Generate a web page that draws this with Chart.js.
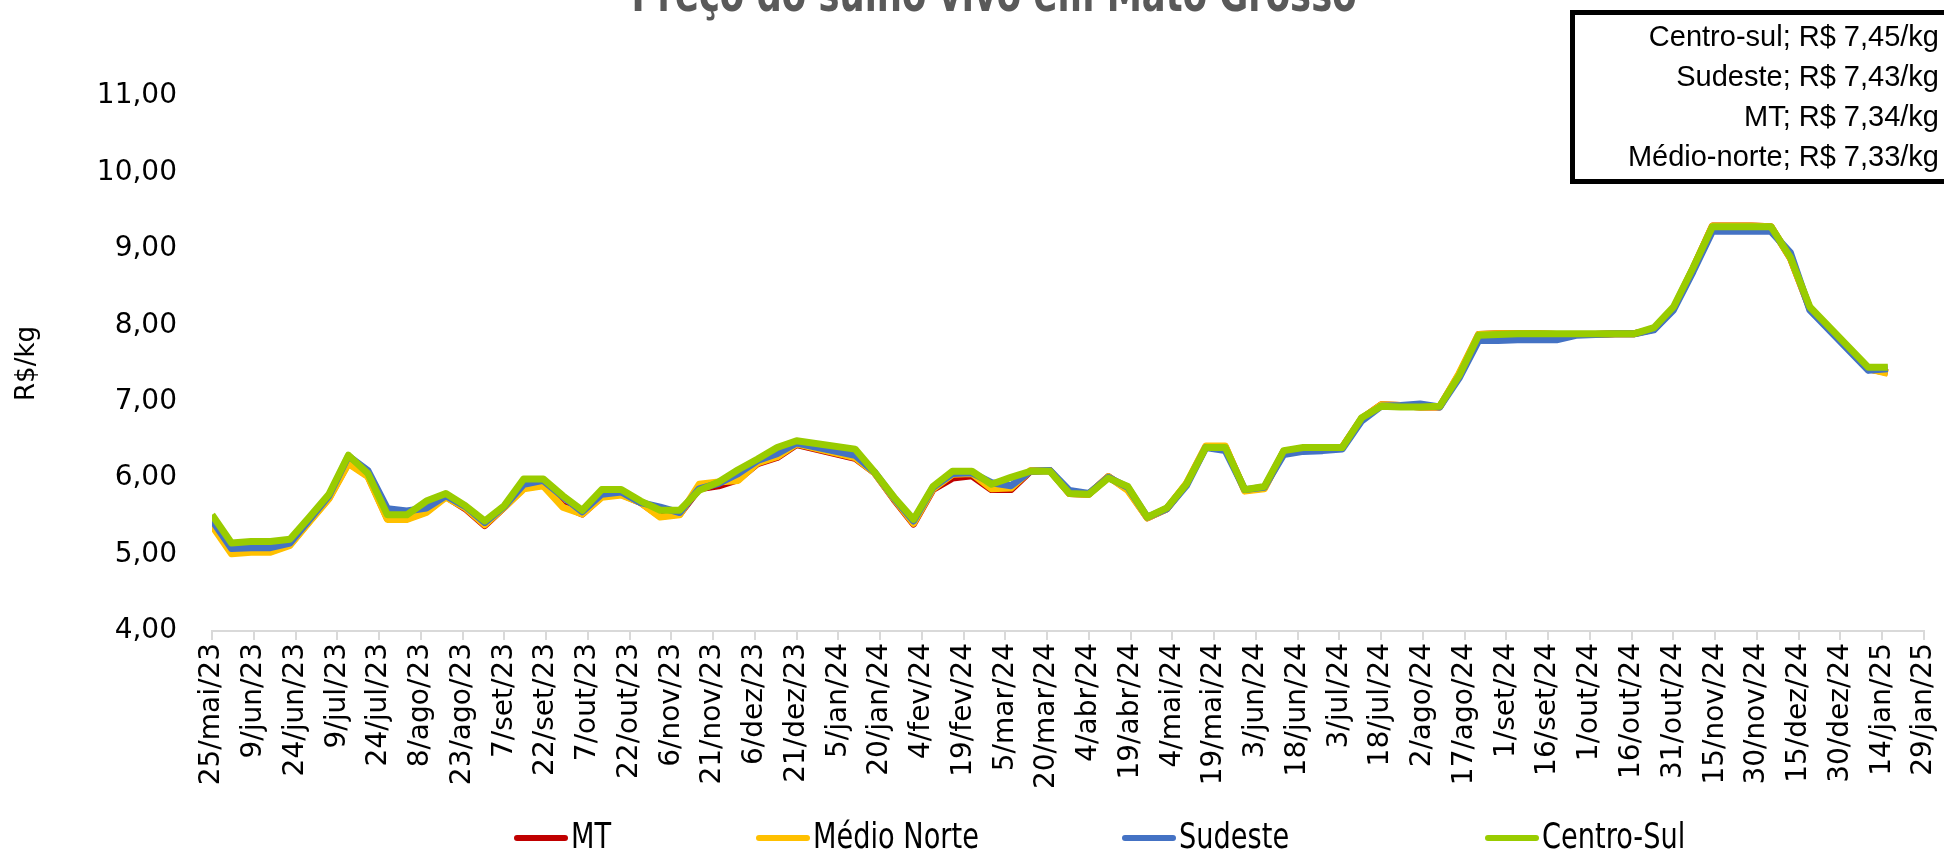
<!DOCTYPE html>
<html lang="pt-BR">
<head>
<meta charset="UTF-8">
<title>Preço do suíno vivo em Mato Grosso</title>
<script src="https://cdn.jsdelivr.net/npm/chart.js@4/dist/chart.umd.min.js"></script>
<style>
  html, body { margin: 0; padding: 0; background: #fff; }
  #wrap { width: 1944px; height: 852px; }
</style>
</head>
<body>
<div id="wrap"><canvas id="chart" width="1944" height="852"></canvas></div>
<script>
// weekly quotes (R$/kg); no quote in the two holiday weeks of each year
const dates = [
  '2023-05-25','2023-06-01','2023-06-08','2023-06-15','2023-06-22','2023-06-29','2023-07-06','2023-07-13',
  '2023-07-20','2023-07-27','2023-08-03','2023-08-10','2023-08-17','2023-08-24','2023-08-31','2023-09-07',
  '2023-09-14','2023-09-21','2023-09-28','2023-10-05','2023-10-12','2023-10-19','2023-10-26','2023-11-02',
  '2023-11-09','2023-11-16','2023-11-23','2023-11-30','2023-12-07','2023-12-14','2023-12-21',
  '2024-01-11','2024-01-18','2024-01-25','2024-02-01','2024-02-08','2024-02-15','2024-02-22','2024-02-29',
  '2024-03-07','2024-03-14','2024-03-21','2024-03-28','2024-04-04','2024-04-11','2024-04-18','2024-04-25',
  '2024-05-02','2024-05-09','2024-05-16','2024-05-23','2024-05-30','2024-06-06','2024-06-13','2024-06-20',
  '2024-06-27','2024-07-04','2024-07-11','2024-07-18','2024-07-25','2024-08-01','2024-08-08','2024-08-15',
  '2024-08-22','2024-08-29','2024-09-05','2024-09-12','2024-09-19','2024-09-26','2024-10-03','2024-10-10',
  '2024-10-17','2024-10-24','2024-10-31','2024-11-07','2024-11-14','2024-11-21','2024-11-28','2024-12-05',
  '2024-12-12','2024-12-19','2025-01-09','2025-01-16'
];

const mt = [
  5.40,5.03,5.04,5.04,5.13,5.44,5.74,6.20, 6.03,5.47,5.47,5.56,5.76,5.60,5.38,5.62,
  5.87,5.91,5.64,5.53,5.76,5.79,5.68,5.50, 5.53,5.86,5.90,5.98,6.19,6.27,6.44,
  6.26,6.07,5.72,5.40,5.85,6.00,6.03,5.85, 5.85,6.09,6.10,5.80,5.79,6.02,5.85,5.48,
  5.60,5.92,6.41,6.41,5.84,5.87,6.35,6.39, 6.39,6.40,6.78,6.96,6.95,6.93,6.93,7.36,
  7.88,7.89,7.89,7.89,7.88,7.88,7.88,7.89, 7.89,7.95,8.22,8.74,9.30,9.30,9.30,9.29,
  8.88,8.22,7.43,7.38
];
const medioNorte = [
  5.38,5.01,5.03,5.03,5.12,5.43,5.73,6.19, 6.02,5.46,5.46,5.55,5.75,5.61,5.39,5.62,
  5.86,5.90,5.62,5.53,5.75,5.78,5.68,5.49, 5.52,5.92,5.95,5.97,6.20,6.28,6.45,
  6.27,6.07,5.73,5.41,5.86,6.05,6.06,5.86, 5.87,6.10,6.10,5.80,5.79,6.02,5.84,5.48,
  5.60,5.93,6.42,6.42,5.83,5.86,6.35,6.39, 6.39,6.40,6.78,6.96,6.95,6.93,6.93,7.37,
  7.88,7.89,7.89,7.89,7.88,7.88,7.88,7.89, 7.89,7.95,8.22,8.74,9.30,9.30,9.30,9.29,
  8.88,8.22,7.43,7.37
];
const sudeste = [
  5.45,5.08,5.09,5.09,5.15,5.46,5.77,6.29, 6.10,5.60,5.57,5.61,5.77,5.63,5.42,5.63,
  5.92,5.97,5.76,5.56,5.79,5.82,5.68,5.62, 5.55,5.86,5.93,6.06,6.23,6.32,6.46,
  6.30,6.08,5.74,5.44,5.88,6.06,6.07,5.94, 5.90,6.09,6.10,5.84,5.80,6.01,5.88,5.49,
  5.60,5.90,6.40,6.36,5.85,5.88,6.31,6.35, 6.36,6.38,6.75,6.94,6.95,6.97,6.93,7.31,
  7.80,7.80,7.81,7.81,7.81,7.87,7.88,7.89, 7.89,7.94,8.20,8.70,9.23,9.23,9.23,9.23,
  8.95,8.20,7.41,7.43
];
const centroSul = [
  5.52,5.15,5.17,5.17,5.20,5.49,5.79,6.30, 6.06,5.52,5.52,5.70,5.80,5.64,5.44,5.64,
  5.99,5.99,5.77,5.58,5.85,5.85,5.70,5.58, 5.58,5.84,5.95,6.11,6.25,6.40,6.49,
  6.38,6.08,5.75,5.46,5.89,6.09,6.09,5.92, 6.01,6.09,6.09,5.80,5.79,6.00,5.89,5.49,
  5.61,5.92,6.40,6.40,5.85,5.89,6.36,6.40, 6.40,6.40,6.79,6.94,6.93,6.93,6.94,7.34,
  7.87,7.88,7.89,7.89,7.89,7.89,7.89,7.89, 7.89,7.97,8.24,8.75,9.29,9.29,9.29,9.29,
  8.89,8.24,7.45,7.45
];

const seriesNames  = ['MT', 'Médio Norte', 'Sudeste', 'Centro-Sul'];
const seriesColors = ['#c00000', '#ffc000', '#4472c4', '#99cc00'];
const seriesValues = [mt, medioNorte, sudeste, centroSul];

// text box in the top right corner
const boxNames  = ['Centro-sul', 'Sudeste', 'MT', 'Médio-norte'];
const boxValues = [7.45, 7.43, 7.34, 7.33];

const tickLabels = [
  '25/mai/23','9/jun/23','24/jun/23','9/jul/23','24/jul/23','8/ago/23','23/ago/23','7/set/23',
  '22/set/23','7/out/23','22/out/23','6/nov/23','21/nov/23','6/dez/23','21/dez/23','5/jan/24',
  '20/jan/24','4/fev/24','19/fev/24','5/mar/24','20/mar/24','4/abr/24','19/abr/24','4/mai/24',
  '19/mai/24','3/jun/24','18/jun/24','3/jul/24','18/jul/24','2/ago/24','17/ago/24','1/set/24',
  '16/set/24','1/out/24','16/out/24','31/out/24','15/nov/24','30/nov/24','15/dez/24','30/dez/24',
  '14/jan/25','29/jan/25'
];

const titleText = 'Preço do suíno vivo em Mato Grosso';

// days counted from the first tick
const monthIdx = {jan:0, fev:1, mar:2, abr:3, mai:4, jun:5, jul:6, ago:7, set:8, out:9, nov:10, dez:11};
const t0 = Date.UTC(2023, 4, 25);
function isoDay(s) {
  const [y, m, d] = s.split('-').map(Number);
  return (Date.UTC(y, m - 1, d) - t0) / 864e5;
}
function labelDay(s) {
  const [d, mon, yy] = s.split('/');
  return (Date.UTC(2000 + Number(yy), monthIdx[mon], Number(d)) - t0) / 864e5;
}

const fmt = v => v.toFixed(2).replace('.', ',');
const tickFont = { family: '"DejaVu Sans", sans-serif', size: 28 };
const narrow = '"Liberation Sans Narrow", "DejaVu Sans Condensed", sans-serif';

const datasets = seriesNames.map((name, i) => ({
  label: name,
  data: dates.map((d, j) => ({ x: isoDay(d), y: seriesValues[i][j] })),
  borderColor: seriesColors[i],
  backgroundColor: seriesColors[i],
  borderWidth: 7,
  borderJoinStyle: 'round',
  pointRadius: 0,
  tension: 0,
  order: 3 - i          // Centro-Sul drawn on top
}));

// title, value box and legend
const decor = {
  id: 'decor',
  afterDraw(chart) {
    const ctx = chart.ctx;
    ctx.save();

    // title is cut by the top edge, as in the source image
    ctx.fillStyle = '#595959';
    ctx.font = 'bold 50px ' + narrow;
    ctx.textAlign = 'center';
    ctx.textBaseline = 'alphabetic';
    ctx.fillText(titleText, 994, 11, 725);

    ctx.strokeStyle = '#000';
    ctx.lineWidth = 5;
    ctx.fillStyle = '#fff';
    ctx.fillRect(1572, 12, 400, 170);
    ctx.strokeRect(1572.5, 12.5, 400, 169);
    ctx.fillStyle = '#000';
    ctx.font = '29px "Liberation Sans", Arial, sans-serif';
    ctx.textAlign = 'right';
    ctx.textBaseline = 'middle';
    boxNames.forEach((name, k) => {
      ctx.fillText(name + '; R$ ' + fmt(boxValues[k]) + '/kg', 1939, 38 + k * 40);
    });

    const legendX = [514, 756, 1122, 1485];
    ctx.font = '36px ' + narrow;
    ctx.textAlign = 'left';
    ctx.lineCap = 'round';
    ctx.lineWidth = 6;
    chart.data.datasets.forEach((ds, i) => {
      const x = legendX[i], y = 838;
      ctx.strokeStyle = ds.borderColor;
      ctx.beginPath();
      ctx.moveTo(x + 3, y);
      ctx.lineTo(x + 51, y);
      ctx.stroke();
      ctx.fillStyle = '#000';
      ctx.fillText(ds.label, x + 57, y + 1, ctx.measureText(ds.label).width * 0.84);
    });
    ctx.restore();
  }
};

new Chart(document.getElementById('chart'), {
  type: 'line',
  data: { datasets },
  plugins: [decor],
  options: {
    responsive: false,
    animation: false,
    devicePixelRatio: 1,
    layout: { padding: { top: 96, right: 20, left: 0, bottom: 0 } },
    plugins: { legend: { display: false }, tooltip: { enabled: false } },
    scales: {
      x: {
        type: 'linear',
        min: 0,
        max: labelDay(tickLabels[tickLabels.length - 1]),
        afterBuildTicks: sc => { sc.ticks = tickLabels.map(s => ({ value: labelDay(s) })); },
        afterFit: sc => { sc.height = 221; sc.paddingLeft = 0; sc.paddingRight = 0; },
        grid: { display: true, drawOnChartArea: false, drawTicks: true, tickLength: 9, color: '#d9d9d9', lineWidth: 2 },
        border: { display: true, color: '#d9d9d9', width: 2 },
        ticks: {
          autoSkip: false,
          minRotation: 90,
          maxRotation: 90,
          padding: 3,
          color: '#000',
          font: tickFont,
          callback: (v, i) => tickLabels[i]
        }
      },
      y: {
        min: 4,
        max: 11,
        afterFit: sc => { sc.width = 212; },
        grid: { display: false },
        border: { display: false },
        ticks: { stepSize: 1, padding: 27, color: '#000', font: tickFont, callback: v => fmt(v) },
        title: {
          display: true,
          text: 'R$/kg',
          color: '#000',
          font: { family: '"DejaVu Sans", sans-serif', size: 26 },
          padding: { top: 12, bottom: 0 }
        }
      }
    }
  }
});
</script>
</body>
</html>
